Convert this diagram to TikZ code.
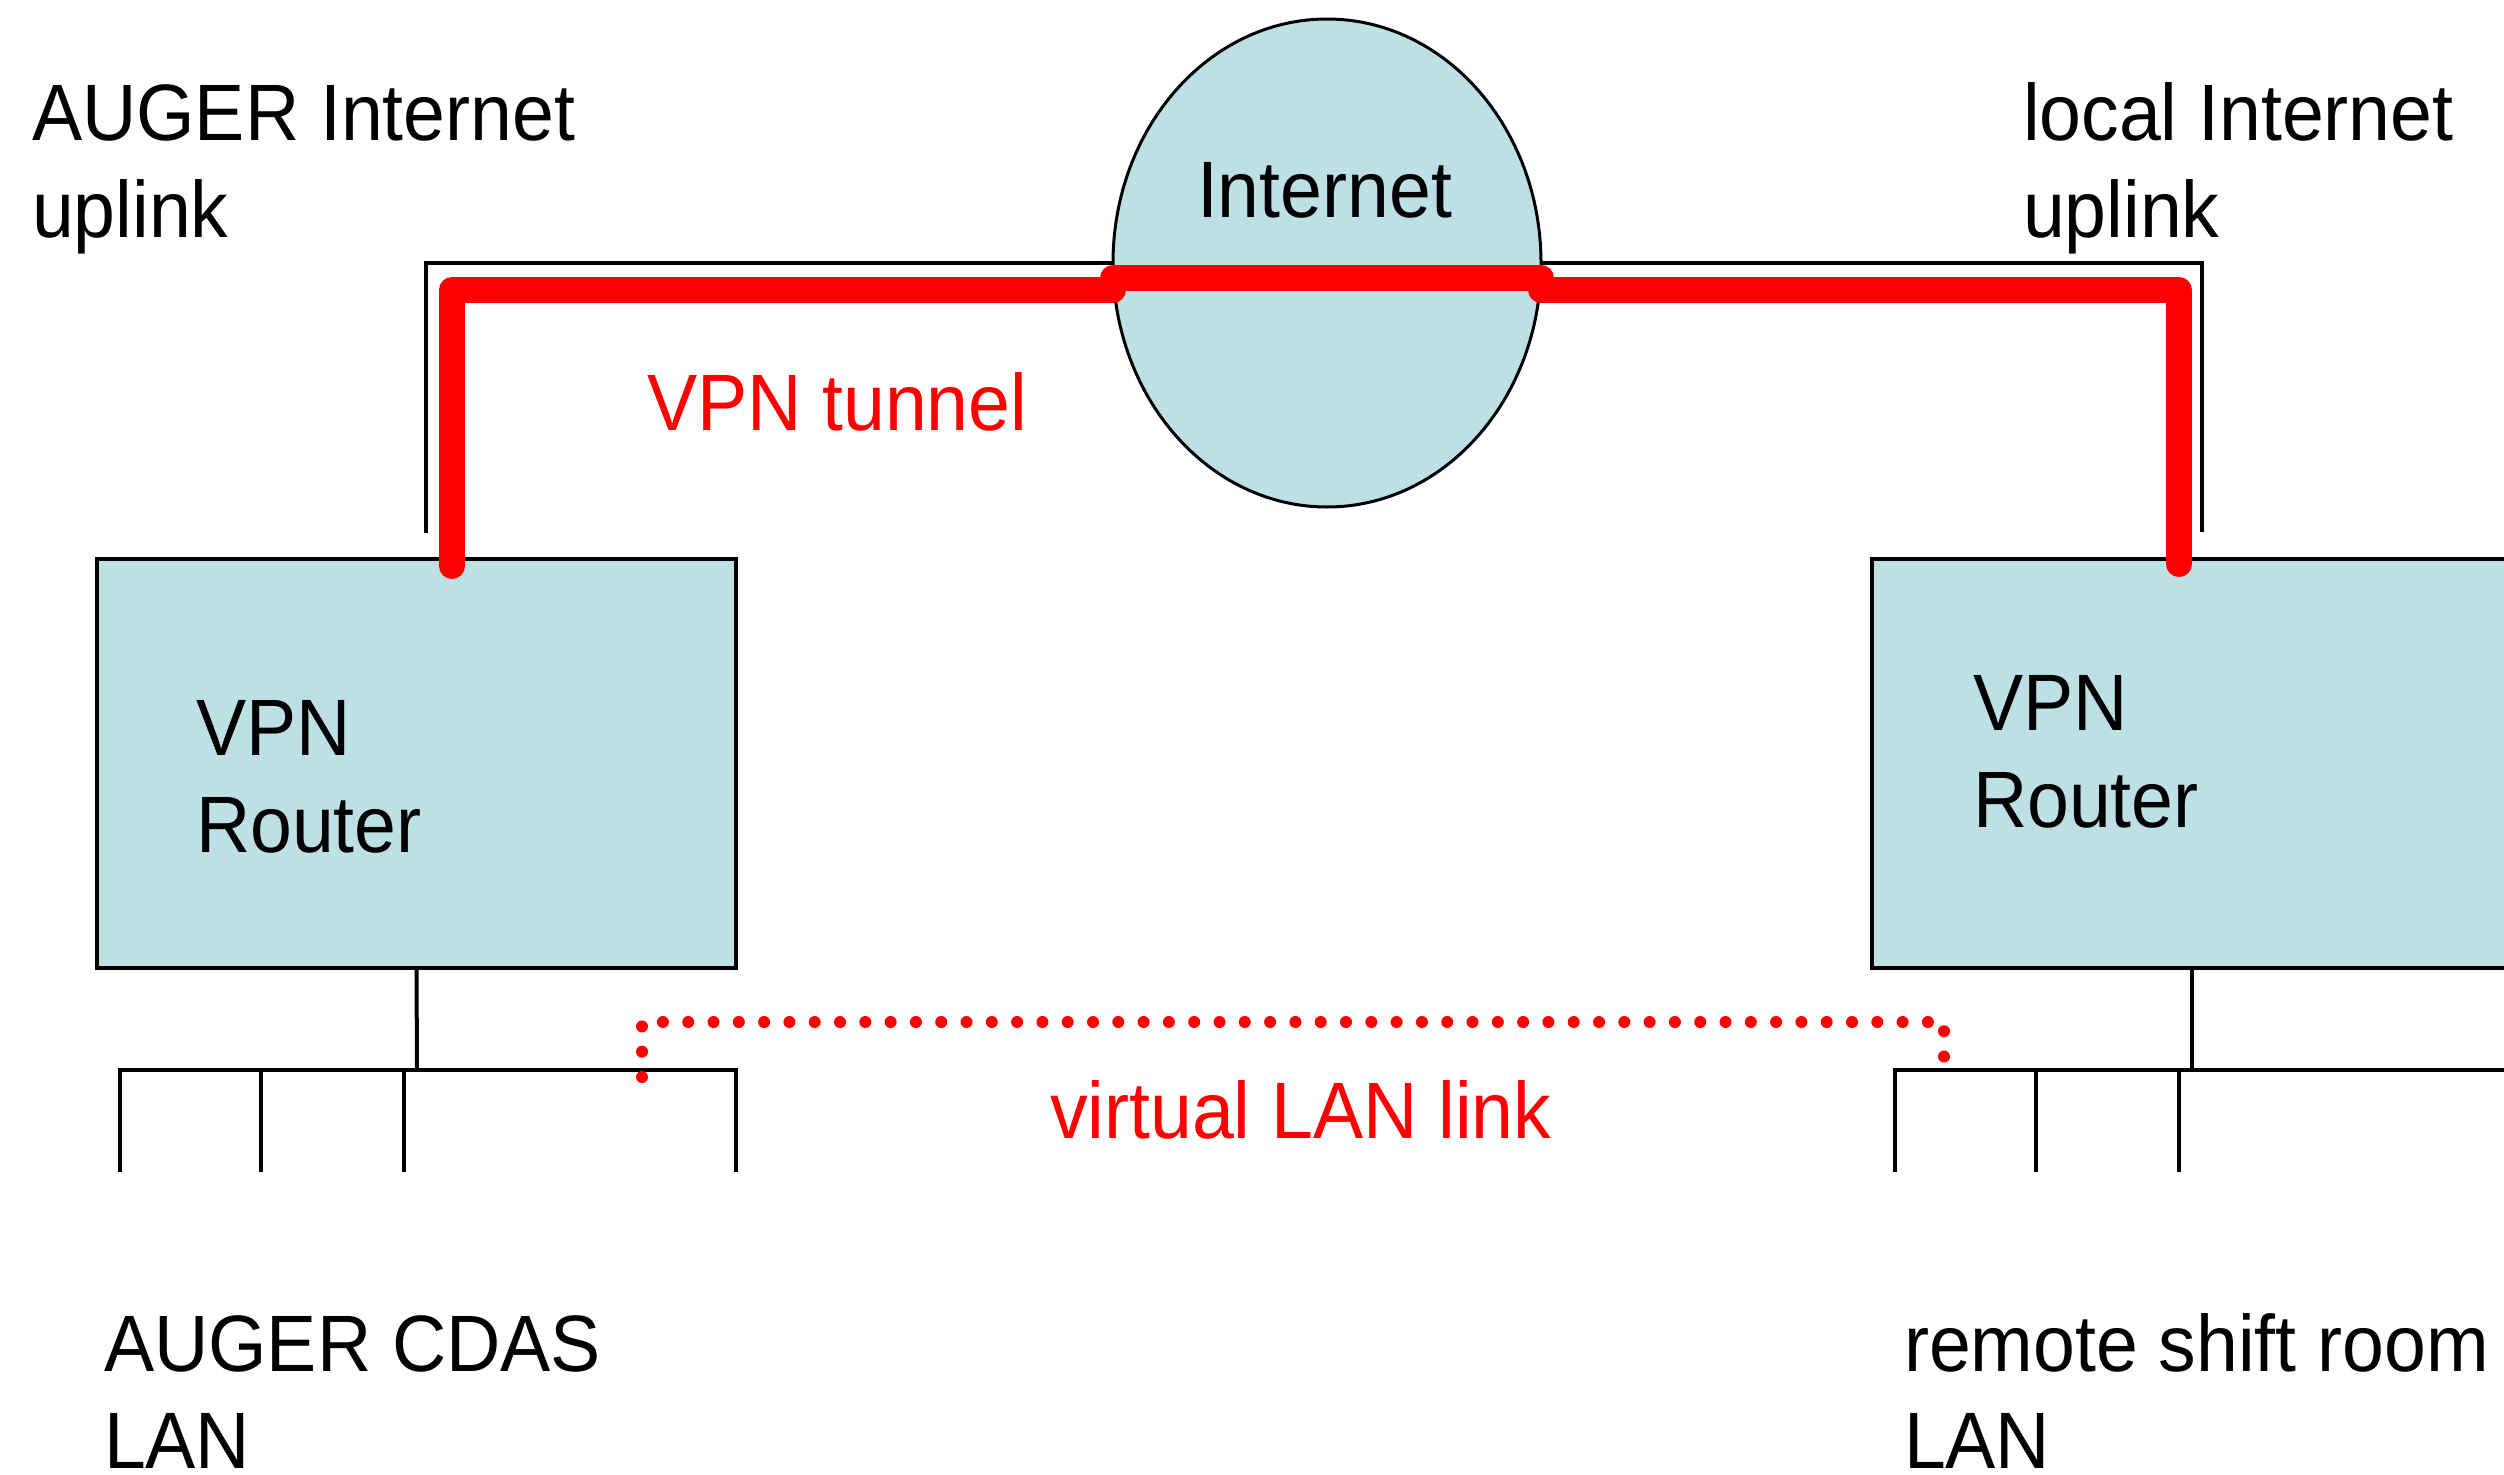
\documentclass[tikz,border=0pt]{standalone}
\usepackage{fontspec}
\setmainfont{Liberation Sans}[FakeStretch=0.94]
\usetikzlibrary{shapes.geometric}

\definecolor{netblue}{RGB}{189,224,229}
\definecolor{tunnelred}{RGB}{255,0,0}

\begin{document}
\begin{tikzpicture}[x=1pt, y=-1pt,
  every node/.style={inner sep=0pt, outer sep=0pt},
  lbl/.style={anchor=base west, align=left, font=\fontsize{80}{97}\selectfont},
  redlbl/.style={lbl, text=tunnelred},
  routerbox/.style={draw=black, line width=4pt, fill=netblue, anchor=north west},
  cloudnode/.style={ellipse, draw=black, line width=3pt, fill=netblue},
  wire/.style={draw=black, line width=4pt},
  tunnel/.style={draw=tunnelred, line width=26pt, line cap=round, line join=round},
  vlan/.style={draw=tunnelred, line width=12pt, line cap=round, dash pattern=on 0pt off 25.3pt}
]
\useasboundingbox[fill=white] (0,0) rectangle (2504,1475);
\clip (0,0) rectangle (2504,1475);

% network elements
\node[cloudnode, minimum width=428pt, minimum height=488pt] (inet) at (1327,263) {};
\node[routerbox, minimum width=639pt, minimum height=409pt] (rA) at (97,559) {};
\node[routerbox, minimum width=700pt, minimum height=409pt] (rB) at (1872,559) {};

% uplinks to the Internet
\coordinate (upA) at (426,533);
\coordinate (upB) at (2202,532);
\draw[wire] (upA) |- (inet.west);
\draw[wire] (inet.east) -| (upB);

% VPN tunnel
\coordinate (tA) at (452,566);
\coordinate (tB) at (2179,564);
\draw[tunnel] (tA) |- ([yshift=-27pt]inet.west);
\draw[tunnel] ([yshift=-15pt]inet.west) -- ([yshift=-15pt]inet.east);
\draw[tunnel] ([yshift=-27pt]inet.east) -| (tB);

% local area networks
\coordinate (busA) at (417,1070);
\draw[wire] (rA.south) -- (busA);
\draw[wire] (120,1172) -- (120,1070) -- (736,1070) -- (736,1172);
\draw[wire] (261,1070) -- (261,1172);
\draw[wire] (404,1070) -- (404,1172);

\coordinate (busB) at (2192,1070);
\draw[wire] (rB.south -| busB) -- (busB);
\draw[wire] (1895,1172) -- (1895,1070) -- (2520,1070);
\draw[wire] (2036,1070) -- (2036,1172);
\draw[wire] (2179,1070) -- (2179,1172);

% virtual LAN link
\coordinate (vA) at (642,1077);
\coordinate (vB) at (1944,1070);
\draw[vlan] (vA) -- ++(0,-55) -| (vB);

% labels (multi-line labels are placed by the baseline of their last line)
\node[lbl] (upAlbl) at (32,237) {AUGER Internet\\uplink};
\node[lbl] (upBlbl) at (2023,237) {local Internet\\uplink};
\node[lbl] (inetlbl) at (1197,217) {Internet};
\node[redlbl] (tunlbl) at (647,430) {VPN tunnel};
\node[lbl] (rAlbl) at (196,852) {VPN\\Router};
\node[lbl] (rBlbl) at (1973,827) {VPN\\Router};
\node[redlbl] (vlanlbl) at (1050,1138) {virtual LAN link};
\node[lbl] (lanAlbl) at (104,1468) {AUGER CDAS\\LAN};
\node[lbl] (lanBlbl) at (1904,1468) {remote shift room\\LAN};
\end{tikzpicture}
\end{document}
